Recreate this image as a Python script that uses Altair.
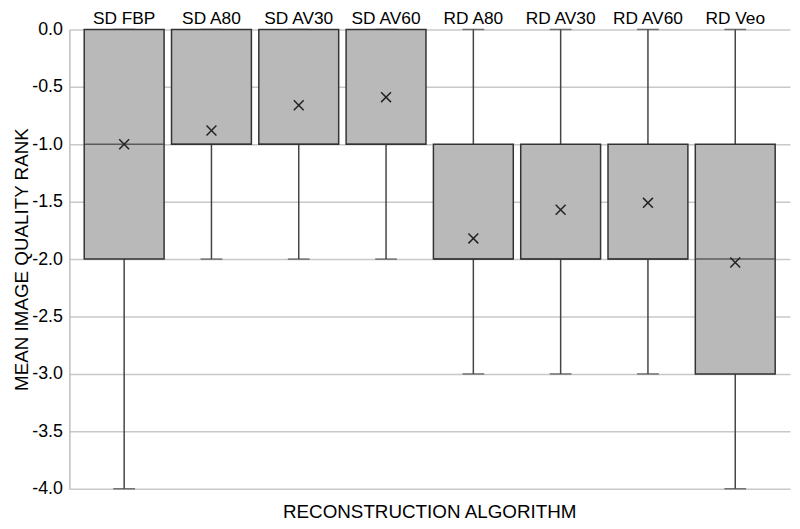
import altair as alt
import pandas as pd

categories = ["SD FBP", "SD A80", "SD AV30", "SD AV60", "RD A80", "RD AV30", "RD AV60", "RD Veo"]
whisker_low = [-4, -2, -2, -2, -3, -3, -3, -4]
q1 = [-2, -1, -1, -1, -2, -2, -2, -3]
median = [-1, -1, -1, -1, -2, -2, -2, -2]
q3 = [0, 0, 0, 0, -1, -1, -1, -1]
whisker_high = [0, 0, 0, 0, 0, 0, 0, 0]
mean = [-1.00, -0.88, -0.66, -0.59, -1.82, -1.57, -1.51, -2.03]
y_ticks = [0, -0.5, -1, -1.5, -2, -2.5, -3, -3.5, -4]

df = pd.DataFrame({
    "cat": categories, "lo": whisker_low, "q1": q1, "med": median,
    "q3": q3, "hi": whisker_high, "mean": mean,
})

FONT = "Liberation Sans"

x = alt.X("cat:N", sort=categories, title=None,
          scale=alt.Scale(type="band", paddingInner=0.085, paddingOuter=0.17, round=False),
          axis=alt.Axis(orient="top", labelAngle=0, ticks=False, domain=False,
                        labelFontSize=17.5, labelFont=FONT, labelColor="#000",
                        labelPadding=2, grid=False))

yscale = alt.Scale(domain=[-4, 0])
yaxis = alt.Axis(title="MEAN IMAGE QUALITY RANK", values=y_ticks,
                 labelExpr="datum.value == 0 ? '0.0' : '-' + format(-datum.value, '.1f')",
                 ticks=False, domain=True, domainColor="#bdbdbd", domainWidth=1.5,
                 gridColor="#c8c8c8", gridWidth=1.5, labelFontSize=18, labelFont=FONT,
                 labelColor="#000", labelPadding=7, titleFontSize=19, titleFont=FONT,
                 titleFontWeight="normal", titleColor="#000", titlePadding=0)

base = alt.Chart(df)

whisk = base.mark_rule(color="#444", strokeWidth=1.5).encode(
    x=x, y=alt.Y("lo:Q", scale=yscale, axis=yaxis), y2="hi:Q")
cap_lo = base.mark_tick(color="#444", thickness=1.5, size=22).encode(
    x=x, y=alt.Y("lo:Q", scale=yscale, axis=yaxis))
cap_hi = base.mark_tick(color="#444", thickness=1.5, size=22).encode(
    x=x, y=alt.Y("hi:Q", scale=yscale, axis=yaxis))
box = base.mark_bar(color="#b9b9b9", stroke="#333", strokeWidth=1.5).encode(
    x=x, y=alt.Y("q1:Q", scale=yscale, axis=yaxis), y2="q3:Q")
med = base.mark_tick(color="#333", thickness=1.5, size=80).encode(
    x=x, y=alt.Y("med:Q", scale=yscale, axis=yaxis))
mn = base.mark_point(shape="M-1,-1L1,1M-1,1L1,-1", filled=False, color="#222",
                     strokeWidth=1.5, size=100, opacity=1).encode(
    x=x, y=alt.Y("mean:Q", scale=yscale, axis=yaxis))

chart = alt.layer(whisk, cap_lo, cap_hi, box, med, mn).properties(
    width=728, height=464,
    autosize=alt.AutoSizeParams(type="none"),
    padding={"left": 62, "top": 19, "right": 2, "bottom": 36},
    title=alt.TitleParams("RECONSTRUCTION ALGORITHM", orient="bottom", fontSize=19,
                          font=FONT, fontWeight="normal", color="#000", offset=6),
).configure_view(stroke=None).configure_axis(labelFont=FONT, titleFont=FONT)

chart.save("out.html", embed_options={"renderer": "svg", "actions": False})
